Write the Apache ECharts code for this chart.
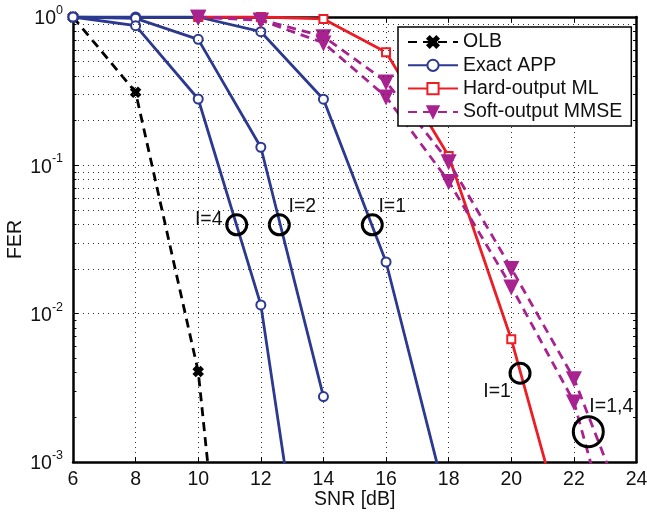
<!DOCTYPE html>
<html><head><meta charset="utf-8">
<script src="https://cdn.jsdelivr.net/npm/echarts@6/dist/echarts.min.js"></script>
<style>html,body{margin:0;padding:0;background:#fff}#c{width:647px;height:513px}</style>
</head><body><div id="c"></div>
<script>
// ---- data ----
const snrOLB = [6, 8, 10, 12];
const ferOLB = [1.0, 0.311, 0.00407, 3.5e-7];
const snrAPP1 = [6, 8, 10, 12, 14, 16, 18];
const ferAPP1 = [1.0, 1.0, 1.0, 0.796, 0.279, 0.0223, 0.00048];
const snrAPP2 = [6, 8, 10, 12, 14];
const ferAPP2 = [1.0, 0.98, 0.707, 0.1324, 0.00276];
const snrAPP4 = [6, 8, 10, 12, 14];
const ferAPP4 = [1.0, 0.874, 0.280, 0.01146, 1.7e-5];
const snrML = [10, 12, 14, 16, 18, 20, 22];
const ferML = [1.0, 1.0, 0.97, 0.578, 0.1157, 0.00673, 0.0002];
const snrMMSE = [10, 12, 14, 16, 18, 20, 22, 24];
const ferMMSE1 = [1.0, 0.96, 0.74, 0.366, 0.106, 0.0202, 0.00366, 0.0003];
const ferMMSE4 = [1.0, 0.95, 0.67, 0.29, 0.078, 0.0152, 0.00255, 0.000074];
const annSNR = [11.23, 12.59, 15.56, 20.28, 22.46];
const annFER = [0.0397, 0.0397, 0.0397, 0.00397, 0.0016];
const annText = ['I=4', 'I=2', 'I=1', 'I=1', 'I=1,4'];
const legendNames = ['OLB', 'Exact APP', 'Hard-output ML', 'Soft-output MMSE'];
const decades = [0.001, 0.01, 0.1];
const minorMult = [2, 3, 4, 5, 6, 7, 8, 9];

// ---- styles ----
const FONT = "'Liberation Sans', Arial, Helvetica, sans-serif";
const FS = 19.5;
const BLUE = '#2b3990', RED = '#ee1c25', MAG = '#a8238f', BLACK = '#000';
const annSize = [20, 20, 20, 20, 30];
const annOff = [[-28, -5], [23, -18], [20, -18], [-23, 18], [23, -25]];

const pts = (xs, ys) => xs.map((x, i) => [x, ys[i]]);
const minorVals = [];
decades.forEach(d => minorMult.forEach(m => minorVals.push(m * d)));

const gridLine = { type: [1, 4], color: '#333', width: 1 };
const markData = [];
minorVals.forEach(v => markData.push({ yAxis: v, lineStyle: gridLine }));
minorVals.forEach(v => {
  markData.push([{ coord: [6, v], lineStyle: { type: 'solid', color: '#000', width: 1 } }, { coord: [6.11, v] }]);
  markData.push([{ coord: [23.89, v], lineStyle: { type: 'solid', color: '#000', width: 1 } }, { coord: [24, v] }]);
});

const xPath = 'path://M0,2L2,0L5,3L8,0L10,2L7,5L10,8L8,10L5,7L2,10L0,8L3,5Z';

function lineSeries(name, xs, ys, color, symbol, size, dashed, extra) {
  return Object.assign({
    type: 'line', name: name, data: pts(xs, ys), symbol: symbol, symbolSize: size,
    showAllSymbol: true, clip: true,
    itemStyle: { color: color, borderColor: color, borderWidth: 2.5 },
    lineStyle: { color: color, width: 2.8, type: dashed ? [9, 6] : 'solid' },
    emphasis: { disabled: true }, z: 3
  }, extra || {});
}

const chart = echarts.init(document.getElementById('c'), null, { renderer: 'canvas' });
chart.setOption({
  animation: false,
  backgroundColor: '#fff',
  textStyle: { fontFamily: FONT },
  grid: { left: 73, right: 10.5, top: 17, bottom: 51, containLabel: false, outerBoundsMode: 'none' },
  legend: {
    data: legendNames, orient: 'vertical', left: 398, top: 27,
    padding: [5, 9, 4, 9], itemWidth: 50, itemHeight: 14, itemGap: 3.3,
    backgroundColor: '#fff', borderColor: '#000', borderWidth: 1.5, borderRadius: 0,
    textStyle: { fontSize: FS, lineHeight: 20, color: '#111', fontFamily: FONT },
    selectedMode: false, z: 10
  },
  xAxis: [{
    type: 'value', min: 6, max: 24, interval: 2, position: 'bottom',
    name: 'SNR [dB]', nameLocation: 'middle', nameGap: 28, nameMoveOverlap: false,
    nameTextStyle: { fontSize: FS, color: '#111', fontFamily: FONT },
    axisLine: { show: true, onZero: false, lineStyle: { color: '#000', width: 2.5 } },
    axisTick: { show: true, inside: true, length: 5, lineStyle: { color: '#000', width: 1 } },
    axisLabel: { fontSize: FS, color: '#111', margin: 8, fontFamily: FONT },
    splitLine: { show: true, lineStyle: gridLine }
  }, {
    type: 'value', min: 6, max: 24, interval: 2, position: 'top',
    axisLine: { show: true, onZero: false, lineStyle: { color: '#000', width: 2.5 } },
    axisTick: { show: true, inside: true, length: 5, lineStyle: { color: '#000', width: 1 } },
    axisLabel: { show: false }, splitLine: { show: false }
  }],
  yAxis: [{
    type: 'log', logBase: 10, min: 0.001, max: 1, position: 'left',
    name: 'FER', nameLocation: 'middle', nameGap: 47, nameMoveOverlap: false,
    nameTextStyle: { fontSize: FS, color: '#111', fontFamily: FONT },
    axisLine: { show: true, onZero: false, lineStyle: { color: '#000', width: 2.5 } },
    axisTick: { show: true, inside: true, length: 6, lineStyle: { color: '#000', width: 1 } },
    axisLabel: {
      margin: 10, color: '#111', fontFamily: FONT,
      formatter: v => '{b|10}{s|' + Math.round(Math.log10(v)) + '}',
      rich: {
        b: { fontSize: FS, lineHeight: 26, color: '#111', fontFamily: FONT, padding: [4, 0, 0, 0] },
        s: { fontSize: 12.5, lineHeight: 12, verticalAlign: 'top', color: '#111', fontFamily: FONT }
      }
    },
    splitLine: { show: true, lineStyle: gridLine }
  }, {
    type: 'log', logBase: 10, min: 0.001, max: 1, position: 'right',
    axisLine: { show: true, onZero: false, lineStyle: { color: '#000', width: 2.5 } },
    axisTick: { show: true, inside: true, length: 6, lineStyle: { color: '#000', width: 1 } },
    axisLabel: { show: false }, splitLine: { show: false }
  }],
  series: [
    {
      type: 'line', name: '__grid', data: [], silent: true, z: 1,
      markLine: { silent: true, symbol: ['none', 'none'], label: { show: false }, animation: false,
        emphasis: { disabled: true }, data: markData }
    },
    lineSeries('OLB', snrOLB, ferOLB, BLACK, xPath, 8, true),
    lineSeries('Exact APP', snrAPP1, ferAPP1, BLUE, 'emptyCircle', 9, false),
    lineSeries('Exact APP', snrAPP2, ferAPP2, BLUE, 'emptyCircle', 9, false),
    lineSeries('Exact APP', snrAPP4, ferAPP4, BLUE, 'emptyCircle', 9, false),
    lineSeries('Hard-output ML', snrML, ferML, RED, 'emptyRect', 8, false),
    lineSeries('Soft-output MMSE', snrMMSE, ferMMSE1, MAG, 'triangle', 12, true, { symbolRotate: 180 }),
    lineSeries('Soft-output MMSE', snrMMSE, ferMMSE4, MAG, 'triangle', 12, true, { symbolRotate: 180 }),
    {
      type: 'scatter', name: '__ann', z: 4, silent: true,
      data: annSNR.map((x, i) => ({ value: [x, annFER[i]], symbolSize: annSize[i], label: { offset: annOff[i] } })),
      symbol: 'circle',
      itemStyle: { color: 'rgba(0,0,0,0)', borderColor: '#000', borderWidth: 3, opacity: 1 },
      emphasis: { disabled: true },
      label: { show: true, position: 'inside', formatter: p => annText[p.dataIndex],
        fontSize: FS, color: '#111', opacity: 1, fontFamily: FONT }
    }
  ]
});
</script>
</body></html>
